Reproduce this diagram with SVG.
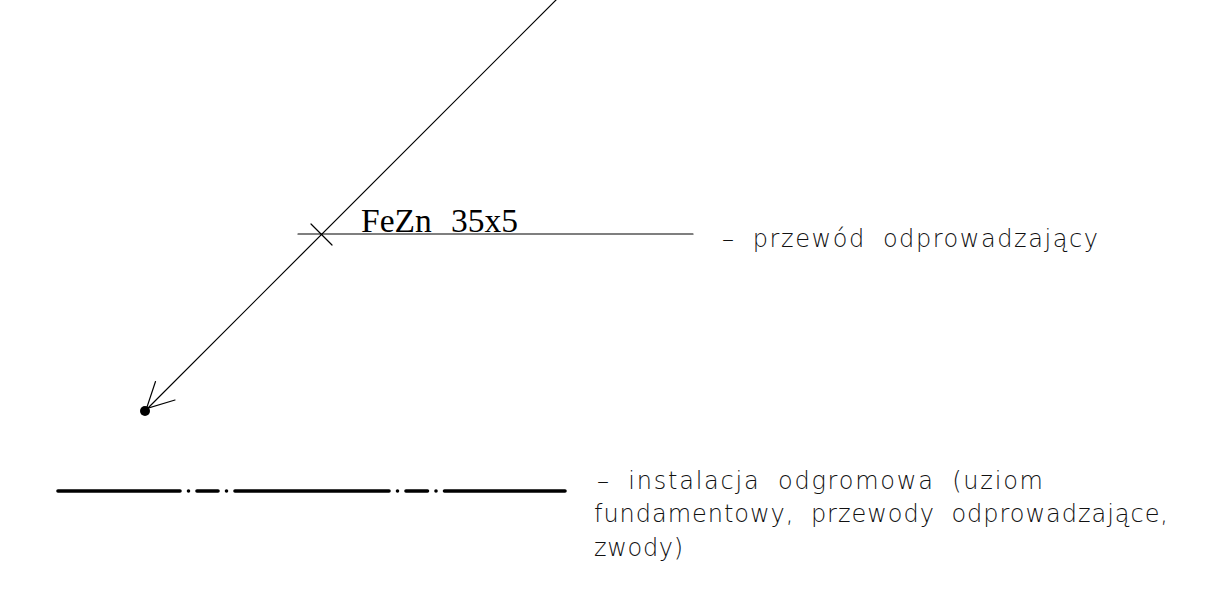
<svg xmlns="http://www.w3.org/2000/svg" width="1218" height="607" viewBox="0 0 1218 607">
  <style>
    .thin { stroke: #000; stroke-width: 1.2; fill: none; stroke-linecap: round; }
    .cad { font-family: "DejaVu Sans", "Liberation Sans", sans-serif; font-weight: 200; font-size: 24px; word-spacing: 8px; fill: #111; }
    .serif { font-family: "Liberation Serif", serif; font-size: 33.5px; fill: #000; }
    .dashdot { stroke: #000; stroke-width: 3.6; fill: none; stroke-linecap: round; }
  </style>
  <rect width="1218" height="607" fill="#fff"/>
  <g id="connectors">
    <line class="thin" x1="560" y1="-4" x2="147" y2="409"/>
    <line class="thin" x1="298" y1="234" x2="693" y2="234"/>
    <line class="thin" x1="311" y1="224" x2="332" y2="245"/>
    <path class="thin" d="M155.5,381.5 L146.5,408.5 L175,400"/>
    <circle cx="145" cy="411" r="5" fill="#000"/>
  </g>
  <g id="label-fezn">
    <text class="serif" y="232"><tspan x="361">FeZn</tspan><tspan x="451">35x5</tspan></text>
  </g>
  <g id="legend-przewod">
    <text class="cad" x="722" y="247" textLength="376" lengthAdjust="spacing">– przewód odprowadzający</text>
  </g>
  <g id="symbol-dashdot">
    <path class="dashdot" d="M58,491 H180 M188.5,491 h0.01 M197,491 H218 M226.5,491 h0.01 M235,491 H389 M397.5,491 h0.01 M406,491 H427.5 M436,491 h0.01 M444.5,491 H565"/>
  </g>
  <g id="legend-instalacja">
    <text class="cad" x="597" y="489" textLength="446" lengthAdjust="spacing">– instalacja odgromowa (uziom</text>
    <text class="cad" x="594" y="522" textLength="574" lengthAdjust="spacing">fundamentowy, przewody odprowadzające,</text>
    <text class="cad" x="594" y="556" textLength="89" lengthAdjust="spacing">zwody)</text>
  </g>
</svg>
